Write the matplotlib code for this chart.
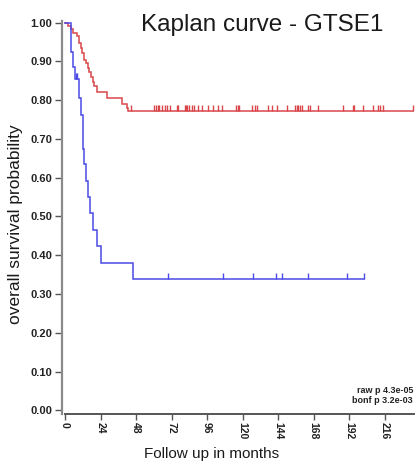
import numpy as np
import matplotlib
matplotlib.use("Agg")
import matplotlib.pyplot as plt

plt.rcParams['font.family'] = ['Liberation Sans', 'DejaVu Sans']

# ---- data ----
red_times = [0, 1.8, 3.8, 5.6, 7.9, 9.5, 10.6, 11.7, 13.0, 14.2, 15.3, 16.4, 17.6,
             18.7, 19.8, 21.4, 28.2, 38.3, 41.7, 42.8, 235.3]
red_surv = [1.0, 0.991, 0.983, 0.973, 0.966, 0.947, 0.934, 0.921, 0.904, 0.895, 0.882,
            0.873, 0.859, 0.848, 0.836, 0.822, 0.805, 0.789, 0.779, 0.772, 0.772]
red_censor = [44.6, 60.3, 61.5, 62.6, 63.7, 65.7, 67.6, 68.7, 70.9, 75.5, 76.6, 81.1,
              81.8, 82.6, 83.8, 85.6, 87.4, 90.1, 92.4, 96.8, 100.2, 103.6, 105.9,
              115.5, 116.7, 117.8, 126.1, 128.4, 129.5, 137.4, 139.7, 143.0, 150.2,
              155.4, 156.6, 157.6, 158.8, 159.9, 164.4, 165.5, 171.1, 188.0, 194.4,
              195.3, 201.6, 208.3, 211.3, 212.8, 214.7, 235.3]

blue_times = [0, 3.8, 4.3, 5.2, 6.8, 9.5, 10.8, 12.3, 13.1, 14.2, 15.8, 16.9, 19.1,
              21.4, 24.3, 46.2, 202.0]
blue_surv = [1.0, 0.962, 0.925, 0.886, 0.856, 0.805, 0.761, 0.675, 0.635, 0.592, 0.550,
             0.509, 0.464, 0.423, 0.380, 0.338, 0.338]
blue_censor = [7.6, 8.3, 69.8, 106.5, 126.8, 142.6, 146.4, 164.0, 190.7, 202.0]

x_ticks = [0, 24, 48, 72, 96, 120, 144, 168, 192, 216]
y_ticks = [0.0, 0.1, 0.2, 0.3, 0.4, 0.5, 0.6, 0.7, 0.8, 0.9, 1.0]

title = "Kaplan curve - GTSE1"
xlabel = "Follow up in months"
ylabel = "overall survival probability"
pvals = ["raw p 4.3e-05", "bonf p 3.2e-03"]

RED = "#d9474b"
BLUE = "#4a4ae6"

W, H = 417, 466
fig = plt.figure(figsize=(W / 100, H / 100), dpi=100)
# axes box in pixels: left 62, right 414, top 21, bottom 414
ax = fig.add_axes([62 / W, (H - 414) / H, (414 - 62) / W, (414 - 21) / H])

x0 = -3 / 1.48
ax.set_xlim(x0, x0 + (414 - 62) / 1.48)
ax.set_ylim(-3.7 / 387, 1 + 1.7 / 387)


def censor_y(times, surv, cens):
    idx = np.searchsorted(times, cens, side='right') - 1
    return np.asarray(surv)[idx]


tick_marker = [(0, 0), (0, 1)]
for t, s, c, col in [(red_times, red_surv, red_censor, RED),
                     (blue_times, blue_surv, blue_censor, BLUE)]:
    ax.step(t, s, where='post', color=col, lw=1.1, solid_joinstyle='miter')
    ax.plot(c, censor_y(t, s, c), linestyle='none', marker=tick_marker,
            markersize=8, markeredgewidth=1.0, color=col)

for side in ['top', 'right']:
    ax.spines[side].set_visible(False)
ax.spines['left'].set_color('#8a8a8a')
ax.spines['left'].set_linewidth(1.6)
ax.spines['bottom'].set_color('#555555')
ax.spines['bottom'].set_linewidth(1.4)
ax.spines['bottom'].set_bounds(0, ax.get_xlim()[1])

ax.set_xticks(x_ticks)
ax.set_xticklabels([str(v) for v in x_ticks], rotation=-90, fontsize=7.5,
                   fontweight='bold', color='#222222')
ax.set_yticks(y_ticks)
ax.set_yticklabels([f"{v:.2f}" for v in y_ticks], fontsize=8, fontweight='bold',
                   color='#222222')
ax.tick_params(axis='y', length=5, width=1.0, color='#555555', pad=2)
ax.tick_params(axis='x', length=4, width=1.0, color='#555555', pad=2)

fig.text(262 / W, 1 - 31 / H, title, ha='center', va='baseline', fontsize=17.5,
         color='#1a1a1a')
fig.text(212 / W, 1 - 458 / H, xlabel, ha='center', va='baseline', fontsize=11,
         color='#1a1a1a')
fig.text(16 / W, 1 - 224 / H, ylabel, ha='center', va='center', rotation=90,
         fontsize=12.5, color='#1a1a1a')
fig.text(413 / W, 1 - 393 / H, pvals[0], ha='right', va='baseline', fontsize=6.5,
         fontweight='bold', color='#222222')
fig.text(413 / W, 1 - 403 / H, pvals[1], ha='right', va='baseline', fontsize=6.5,
         fontweight='bold', color='#222222')

fig.savefig("out.png", dpi=100)
